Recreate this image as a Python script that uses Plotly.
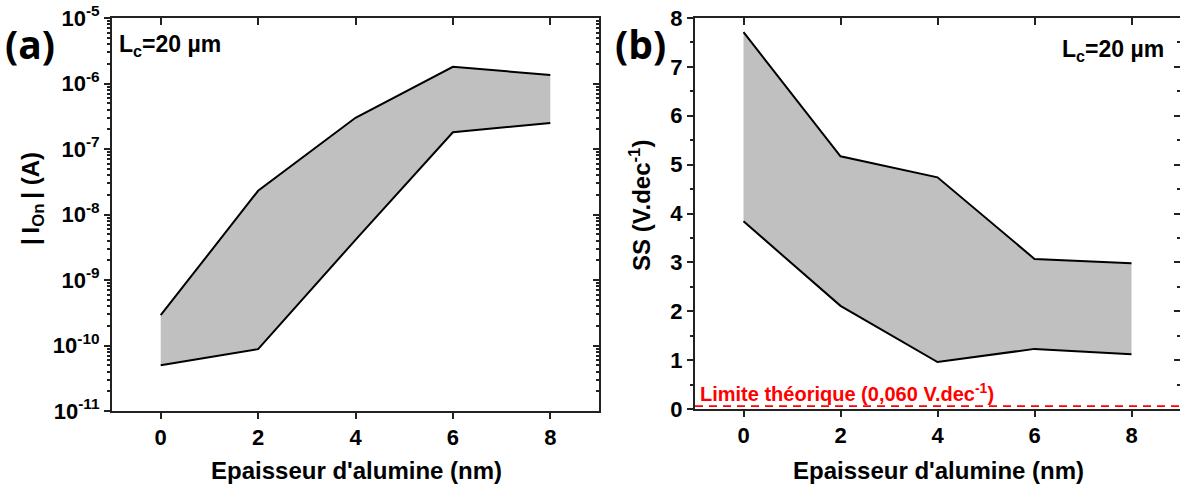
import plotly.graph_objects as go

thickness = [0, 2, 4, 6, 8]
ion_upper = [2.9e-10, 2.3e-8, 3.0e-7, 1.8e-6, 1.35e-6]
ion_lower = [5.0e-11, 8.8e-11, 4.1e-9, 1.8e-7, 2.5e-7]
ss_upper = [7.71, 5.17, 4.74, 3.07, 2.98]
ss_lower = [3.84, 2.11, 0.96, 1.23, 1.12]
ss_limit = 0.060
log_ticks = [1e-11, 1e-10, 1e-9, 1e-8, 1e-7, 1e-6, 1e-5]
log_labels = ["10<sup>-11</sup>", "10<sup>-10</sup>", "10<sup>-9</sup>", "10<sup>-8</sup>",
              "10<sup>-7</sup>", "10<sup>-6</sup>", "10<sup>-5</sup>"]
x_ticks = [0, 2, 4, 6, 8]

W, H = 1180, 488
FONT = "Liberation Sans, Arial, sans-serif"
FILL = "#C0C0C0"
AX = "#222222"

def px_x(p):
    return p / W

def px_y(p):
    return 1 - p / H

fig = go.Figure()

# Panel (a)
fig.add_trace(go.Scatter(x=thickness, y=ion_lower, mode="lines",
                         line=dict(color="black", width=2), xaxis="x", yaxis="y",
                         showlegend=False, hoverinfo="skip"))
fig.add_trace(go.Scatter(x=thickness, y=ion_upper, mode="lines", fill="tonexty",
                         fillcolor=FILL, line=dict(color="black", width=2),
                         xaxis="x", yaxis="y", showlegend=False, hoverinfo="skip"))
fig.add_trace(go.Scatter(x=[0], y=[1e-8], mode="markers", marker=dict(opacity=0),
                         xaxis="x3", yaxis="y3", showlegend=False, hoverinfo="skip"))

# Panel (b)
fig.add_trace(go.Scatter(x=thickness, y=ss_lower, mode="lines",
                         line=dict(color="black", width=2), xaxis="x2", yaxis="y2",
                         showlegend=False, hoverinfo="skip"))
fig.add_trace(go.Scatter(x=thickness, y=ss_upper, mode="lines", fill="tonexty",
                         fillcolor=FILL, line=dict(color="black", width=2),
                         xaxis="x2", yaxis="y2", showlegend=False, hoverinfo="skip"))
fig.add_trace(go.Scatter(x=[-1, 9], y=[ss_limit, ss_limit], mode="lines",
                         line=dict(color="#FF0000", width=1.8, dash="8px,6px"),
                         xaxis="x2", yaxis="y2", showlegend=False, hoverinfo="skip"))
fig.add_trace(go.Scatter(x=[0], y=[4], mode="markers", marker=dict(opacity=0),
                         xaxis="x4", yaxis="y4", showlegend=False, hoverinfo="skip"))

tickfont = dict(family=FONT, size=22, color="black", weight="bold")

dom_ax = [px_x(112), px_x(599)]
dom_bx = [px_x(695), 1.0]
dom_ay = [px_y(411), px_y(18)]
dom_by = [px_y(409), px_y(18)]

common = dict(showgrid=False, zeroline=False, showline=True, linecolor=AX, linewidth=2,
              tickcolor=AX, tickwidth=1.5, automargin=False)
common_x = dict(range=[-1, 9], tickvals=x_ticks, **common)

fig.update_layout(
    width=W, height=H,
    margin=dict(l=0, r=0, t=0, b=0, autoexpand=False),
    paper_bgcolor="white", plot_bgcolor="white",
    xaxis=dict(domain=dom_ax, anchor="y", ticks="outside", ticklen=6,
               tickfont=tickfont, **common_x),
    xaxis3=dict(domain=dom_ax, anchor="y", overlaying="x", side="top", ticks="inside",
                ticklen=7, showticklabels=False, **common_x),
    yaxis=dict(domain=dom_ay, anchor="x", type="log", range=[-11, -5],
               tickvals=log_ticks, ticktext=log_labels, ticks="outside", ticklen=6,
               tickfont=tickfont, **common,
               minor=dict(ticks="outside", ticklen=3, dtick="D1", tickcolor=AX, showgrid=False)),
    yaxis3=dict(domain=dom_ay, anchor="x", overlaying="y", side="right", type="log",
                range=[-11, -5], tickvals=log_ticks, ticks="inside", ticklen=6,
                showticklabels=False, **common,
                minor=dict(ticks="inside", ticklen=3, dtick="D1", tickcolor=AX, showgrid=False)),
    xaxis2=dict(domain=dom_bx, anchor="y2", ticks="outside", ticklen=6,
                tickfont=tickfont, **common_x),
    xaxis4=dict(domain=dom_bx, anchor="y2", overlaying="x2", side="top", ticks="inside",
                ticklen=7, showticklabels=False, **common_x),
    yaxis2=dict(domain=dom_by, anchor="x2", range=[0, 8], tickvals=list(range(0, 9)),
                ticks="outside", ticklen=6, tickfont=tickfont, **common,
                minor=dict(ticks="outside", ticklen=3, dtick=0.5, tickcolor=AX, showgrid=False)),
    yaxis4=dict(domain=dom_by, anchor="x2", overlaying="y2", side="right", range=[0, 8],
                tickvals=list(range(0, 9)), ticks="inside", ticklen=6,
                showticklabels=False, **common,
                minor=dict(ticks="inside", ticklen=3, dtick=0.5, tickcolor=AX, showgrid=False)),
)

def ann(text, x, y, size=20, color="black", angle=0, xanchor="center", yanchor="middle",
        family=FONT):
    fig.add_annotation(text=text, x=px_x(x), y=px_y(y), xref="paper", yref="paper",
                       showarrow=False, textangle=angle, xanchor=xanchor, yanchor=yanchor,
                       font=dict(family=family, size=size, color=color, weight="bold"))

# Panel labels
ann("(a)", 30, 44, size=39, family="Open Sans, Lato, sans-serif")
ann("(b)", 640, 44, size=39, family="Open Sans, Lato, sans-serif")

# L_c annotations
ann("L<sub>c</sub>=20 µm", 117, 46, size=23, xanchor="left")
ann("L<sub>c</sub>=20 µm", 1166, 50, size=23, xanchor="right")

# Axis titles
ann("Epaisseur d'alumine (nm)", 356, 470, size=24)
ann("Epaisseur d'alumine (nm)", 938, 470, size=24)
ann("|\u2009I<sub>On</sub>\u2009| (A)", 32, 199, size=24, angle=-90)
ann("SS (V.dec<sup>-1</sup>)", 640, 206, size=24, angle=-90)

# Theoretical limit label
ann("Limite théorique (0,060 V.dec<sup>-1</sup>)", 698, 392, size=20, color="#FF0000",
    xanchor="left")

fig.write_html("out.html", config={"displayModeBar": False},
               post_script="document.body.style.margin='0';"
                           "document.documentElement.style.overflow='hidden';")
